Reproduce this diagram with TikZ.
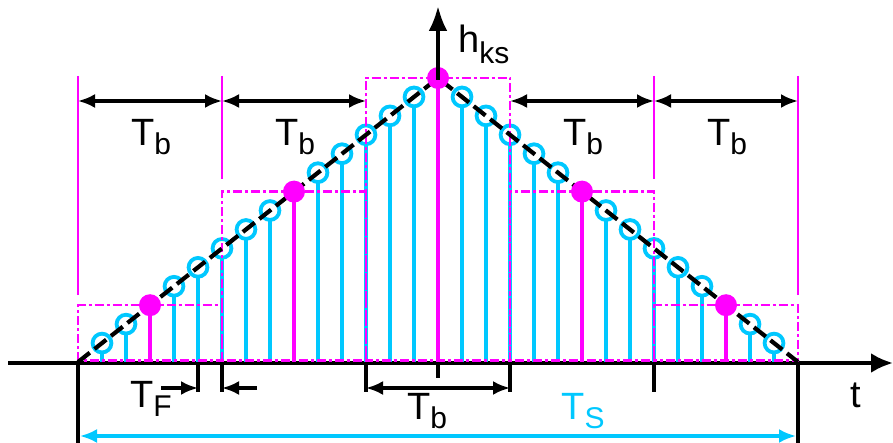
\documentclass[tikz,border=0pt]{standalone}
\usepackage{fontspec}
\setmainfont{Liberation Sans}
\usetikzlibrary{arrows.meta}
\definecolor{cy}{RGB}{0,200,255}
\definecolor{mg}{RGB}{255,0,255}
\newcommand{\Tsub}[1]{T\raisebox{-9pt}{\fontsize{30}{30}\selectfont #1}}
\begin{document}
\begin{tikzpicture}[x=1pt,y=-1pt,
  lab/.style={font=\fontsize{38}{40}\selectfont, inner sep=0pt, anchor=base},
  tipA/.tip={Latex[length=17pt,width=14pt]},
  dim/.style={line width=3.2pt, tipA-tipA},
  onedim/.style={line width=3.2pt, -tipA},
  axis/.style={line width=4pt, -{Latex[length=22pt,width=20pt]}},
  tick/.style={line width=3.5pt},
  cstem/.style={cy, line width=4pt},
  mstem/.style={mg, line width=4pt},
  ring/.style={cy, line width=3.8pt},
  blockbox/.style={mg, line width=2.2pt, dash pattern=on 9pt off 3pt on 3pt off 3pt},
  marker/.style={mg, line width=2.2pt},
  ramp/.style={black, line width=4.2pt, dash pattern=on 15pt off 6pt}
]
\useasboundingbox (0,0) rectangle (893,443);
\fill[white] (0,0) rectangle (893,443);

% named coordinates
\coordinate (o) at (78,362);
\coordinate (pk) at (438,78);
\coordinate (e) at (798,362);
\coordinate (xs) at (8,363);
\coordinate (xe) at (893,363);
\coordinate (ys) at (438,80);
\coordinate (ye) at (438,6);

% x axis
\draw[axis] (xs) -- (xe);

% cyan stems with rings
\foreach \n in {1,...,29}{
  \pgfmathtruncatemacro\m{mod(\n,6)}
  \pgfmathsetmacro\xx{78+24*\n}
  \pgfmathsetmacro\yy{362-284*(15-abs(\n-15))/15}
  \ifnum\m=3\relax\else
    \draw[cstem] (\xx,362) -- (\xx,\yy+9);
    \draw[ring] (\xx,\yy) circle[radius=9.4pt];
  \fi
}

% block rectangles
\foreach \k in {0,...,4}{
  \pgfmathsetmacro\xa{78+144*\k}
  \pgfmathsetmacro\xb{78+144*(\k+1)}
  \pgfmathsetmacro\nn{6*\k+3}
  \pgfmathsetmacro\yt{362-284*(15-abs(\nn-15))/15}
  \draw[blockbox] (\xa,360.5) rectangle (\xb,\yt);
}

% ramp
\draw[ramp] (o) -- (pk) -- (e);

% magenta stems and dots
\foreach \n in {3,9,15,21,27}{
  \pgfmathsetmacro\xx{78+24*\n}
  \pgfmathsetmacro\yy{362-284*(15-abs(\n-15))/15}
  \draw[mstem] (\xx,362) -- (\xx,\yy);
  \fill[mg] (\xx,\yy) circle[radius=11pt];
}

% vertical axis
\draw[axis,-{Latex[length=25pt,width=19pt]}] (ys) -- (ye);

% magenta Tb markers
\draw[marker] (78,76) -- (78,295);
\draw[marker] (222,76) -- (222,179);
\draw[marker] (654,76) -- (654,179);
\draw[marker] (798,76) -- (798,295);

% top Tb arrows
\coordinate (a0) at (78,101);
\coordinate (a1) at (222,101);
\coordinate (a2) at (366,101);
\coordinate (a3) at (510,101);
\coordinate (a4) at (654,101);
\coordinate (a5) at (798,101);
\draw[dim] (a0) -- (a1);
\draw[dim] (a1) -- (a2);
\draw[dim] (a3) -- (a4);
\draw[dim] (a4) -- (a5);

% lower ticks
\draw[tick] (78,362) -- (78,443);
\draw[tick] (798,362) -- (798,443);
\draw[tick] (198,362) -- (198,392);
\draw[tick] (222,362) -- (222,392);
\draw[tick] (366,362) -- (366,392);
\draw[tick] (510,362) -- (510,392);
\draw[tick] (654,362) -- (654,392);
\draw[tick] (438,362) -- (438,378);

% lower arrows
\coordinate (b0) at (366,388);
\coordinate (b1) at (510,388);
\draw[dim] (b0) -- (b1);
\coordinate (f0) at (161,388);
\coordinate (f1) at (198,388);
\coordinate (f2) at (257,388);
\coordinate (f3) at (222,388);
\draw[onedim] (f0) -- (f1);
\draw[onedim] (f2) -- (f3);
\coordinate (s0) at (80,436);
\coordinate (s1) at (796,436);
\draw[dim,cy] (s0) -- (s1);

% labels
\node[lab] (tb1) at (151,146) {\Tsub{b}};
\node[lab] (tb2) at (295,146) {\Tsub{b}};
\node[lab] (tb4) at (583,146) {\Tsub{b}};
\node[lab] (tb5) at (727,146) {\Tsub{b}};
\node[lab] (tb3) at (427,419) {\Tsub{b}};
\node[lab] (tf) at (151,407) {\Tsub{F}};
\node[lab,text=cy] (ts) at (583,419) {\Tsub{S}};
\node[lab] (tt) at (856,407) {t};
\node[lab,anchor=base west] (hk) at (458,53) {h\raisebox{-11pt}{\fontsize{30}{30}\selectfont ks}};
\end{tikzpicture}
\end{document}
